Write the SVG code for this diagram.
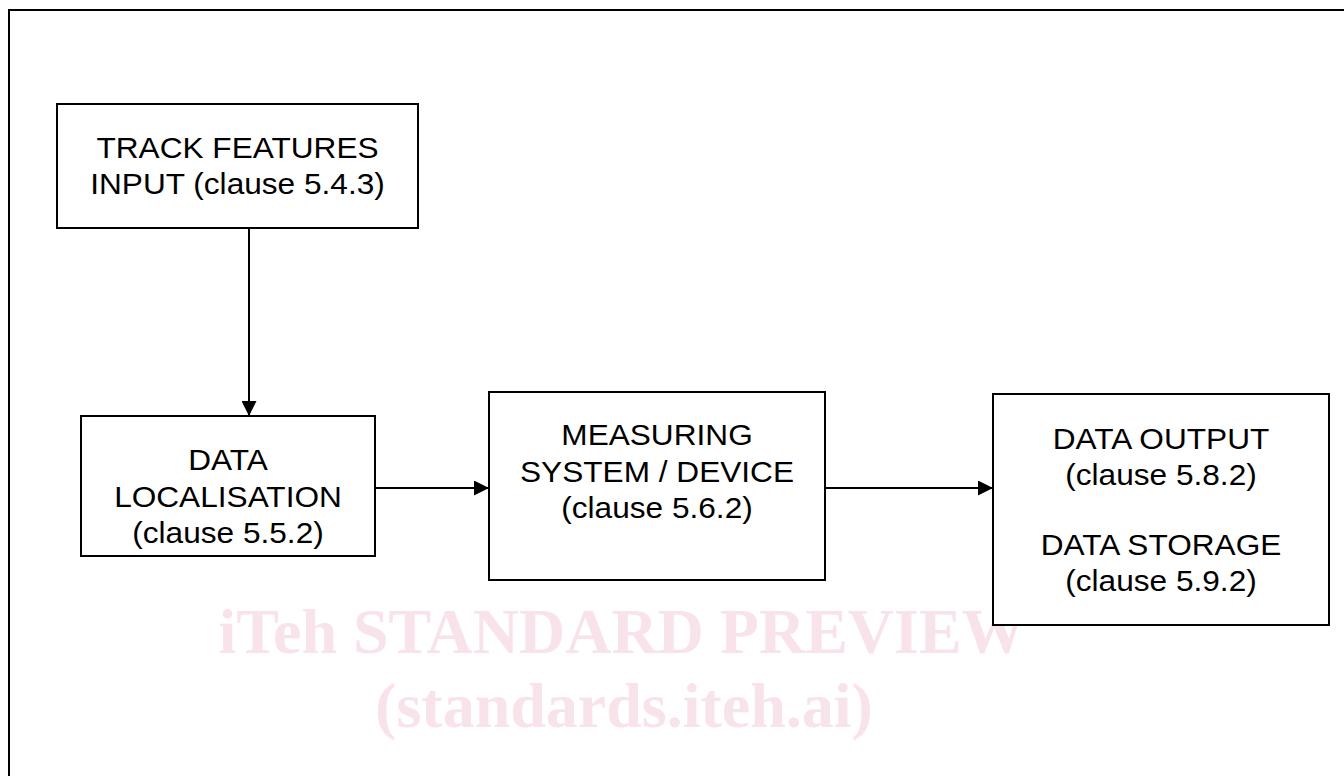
<svg xmlns="http://www.w3.org/2000/svg" width="1344" height="776" viewBox="0 0 1344 776">
  <defs>
    <marker id="arrow" markerWidth="15" markerHeight="15" refX="15" refY="7.5" orient="auto" markerUnits="userSpaceOnUse">
      <path d="M0,0 L15,7.5 L0,15 Z" fill="#000"/>
    </marker>
  </defs>
  <style>
    .frame { fill: #fff; stroke: #000; stroke-width: 2; }
    .box { fill: #fff; stroke: #000; stroke-width: 2; }
    .lbl { font-family: "Liberation Sans", Arial, sans-serif; font-size: 29px; fill: #000; text-anchor: middle; }
    .conn { fill: none; stroke: #000; stroke-width: 2; marker-end: url(#arrow); }
    .mark { font-family: "Liberation Serif", "Times New Roman", serif; font-weight: bold; font-size: 64px; fill: #f9e3ea; text-anchor: middle; }
  </style>

  <!-- page background and outer frame -->
  <rect x="0" y="0" width="1344" height="776" fill="#fff"/>
  <rect class="frame" x="9" y="10" width="1400" height="800"/>

  <!-- watermark -->
  <g id="watermark">
    <text class="mark" x="622" y="653">iTeh STANDARD PREVIEW</text>
    <text class="mark" x="624" y="727">(standards.iteh.ai)</text>
  </g>

  <!-- connectors -->
  <g id="connectors">
    <line class="conn" x1="249" y1="228" x2="249" y2="416"/>
    <line class="conn" x1="375" y1="488" x2="489" y2="488"/>
    <line class="conn" x1="825" y1="488" x2="993" y2="488"/>
  </g>

  <!-- nodes -->
  <g id="track-features-input">
    <rect class="box" x="57" y="104" width="361" height="124"/>
    <g transform="translate(237.5 0) scale(1.09 1)">
      <text class="lbl" x="0" y="158">TRACK FEATURES</text>
      <text class="lbl" x="0" y="194">INPUT (clause 5.4.3)</text>
    </g>
  </g>

  <g id="data-localisation">
    <rect class="box" x="81" y="416" width="294" height="140"/>
    <g transform="translate(228 0) scale(1.09 1)">
      <text class="lbl" x="0" y="470">DATA</text>
      <text class="lbl" x="0" y="507">LOCALISATION</text>
      <text class="lbl" x="0" y="543">(clause 5.5.2)</text>
    </g>
  </g>

  <g id="measuring-system">
    <rect class="box" x="489" y="392" width="336" height="188"/>
    <g transform="translate(657 0) scale(1.09 1)">
      <text class="lbl" x="0" y="445">MEASURING</text>
      <text class="lbl" x="0" y="482">SYSTEM / DEVICE</text>
      <text class="lbl" x="0" y="518">(clause 5.6.2)</text>
    </g>
  </g>

  <g id="data-output-storage">
    <rect class="box" x="993" y="394" width="336" height="231"/>
    <g transform="translate(1161 0) scale(1.09 1)">
      <text class="lbl" x="0" y="449">DATA OUTPUT</text>
      <text class="lbl" x="0" y="485">(clause 5.8.2)</text>
      <text class="lbl" x="0" y="555">DATA STORAGE</text>
      <text class="lbl" x="0" y="591">(clause 5.9.2)</text>
    </g>
  </g>
</svg>
